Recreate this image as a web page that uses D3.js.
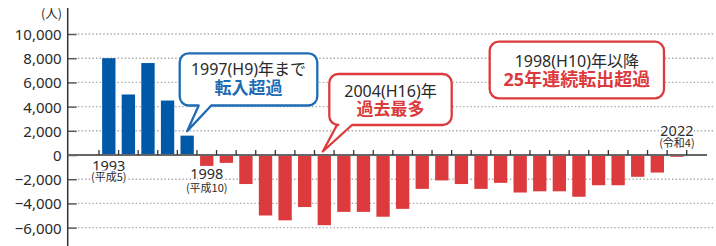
<!DOCTYPE html>
<html><head><meta charset="utf-8">
<script src="https://cdn.jsdelivr.net/npm/d3@7"></script>
<style>body{margin:0;background:#fff} svg{display:block}</style>
</head><body>
<svg id="c" width="716" height="246"></svg>
<script>
// ---- data ----
const years = [1993,1994,1995,1996,1997,1998,1999,2000,2001,2002,2003,2004,2005,2006,2007,2008,2009,2010,2011,2012,2013,2014,2015,2016,2017,2018,2019,2020,2021,2022];
const values = [8000,5000,7600,4500,1600,-900,-650,-2400,-5000,-5400,-4300,-5800,-4700,-4700,-5100,-4450,-2800,-2100,-2400,-2800,-2300,-3100,-3000,-3000,-3450,-2500,-2500,-1800,-1450,-150];
const yTicks = [-6000,-4000,-2000,0,2000,4000,6000,8000,10000];
const yUnit = "(人)";
const labelYears = [1993,1998,2022];
const labelMain = ["1993","1998","2022"];
const labelSub = ["(平成5)","(平成10)","(令和4)"];
const callout1 = ["1997(H9)年まで","転入超過"];
const callout2 = ["2004(H16)年","過去最多"];
const callout3 = ["1998(H10)年以降","25年連続転出超過"];

// ---- styles ----
const BLUE = "#0058a8", BLUE_LINE = "#1f6cb4", RED = "#dc3a3c", INK = "#2a2a2a";
const FONT = "'Noto Sans','Noto Sans CJK JP',sans-serif";
const CJK = "'Noto Sans CJK JP',sans-serif";

const svg = d3.select("#c");
const x = d3.scaleBand().domain(years).range([99, 686.7]).padding(0);
const y = d3.scaleLinear().domain([-6000, 10000]).range([227.6, 34]);
const axisX = 67.7;
const barW = x.bandwidth() * 0.68;

// grid lines
svg.append("g").selectAll("line").data(yTicks.filter(d => d !== 0)).join("line")
  .attr("x1", 78).attr("x2", 713)
  .attr("y1", d => y(d)).attr("y2", d => y(d))
  .attr("stroke", "#a8a8a8").attr("stroke-width", 1.4).attr("stroke-dasharray", "1.4 2.2");

// y axis
const ya = svg.append("g").attr("transform", `translate(${axisX},0)`)
  .call(d3.axisLeft(y).tickValues(yTicks).tickSize(-9).tickPadding(6).tickFormat(d3.format(",")));
ya.select(".domain").remove();
ya.selectAll(".tick line").attr("stroke", "#555").attr("stroke-width", 1.5);
ya.selectAll(".tick text").attr("font-family", FONT).attr("font-size", 15).attr("fill", INK).attr("dy", "0.36em");
svg.append("line").attr("x1", axisX).attr("x2", axisX).attr("y1", 8).attr("y2", 246)
  .attr("stroke", "#333").attr("stroke-width", 1.5);
svg.append("text").attr("x", 62).attr("y", 18).attr("text-anchor", "end")
  .attr("font-family", CJK).attr("font-size", 12.5).attr("fill", INK).text(yUnit);

// bars
svg.append("g").selectAll("rect").data(values).join("rect")
  .attr("x", (d, i) => x(years[i]) + (x.bandwidth() - barW) / 2)
  .attr("width", barW)
  .attr("y", d => Math.min(y(d), y(0)))
  .attr("height", d => Math.abs(y(d) - y(0)))
  .attr("fill", d => d >= 0 ? BLUE : RED);

// zero line + category ticks
svg.append("line").attr("x1", axisX).attr("x2", 707).attr("y1", y(0)).attr("y2", y(0))
  .attr("stroke", "#666").attr("stroke-width", 2);
const bounds = years.map(d => x(d)).concat([x(years[years.length - 1]) + x.bandwidth()]);
svg.append("g").selectAll("line").data(bounds).join("line")
  .attr("x1", d => d).attr("x2", d => d).attr("y1", y(0) - 5).attr("y2", y(0))
  .attr("stroke", "#333").attr("stroke-width", 1.3);

// x labels
const labOff = {1993: [170.5, 180.8], 1998: [179, 191.8], 2022: [135.8, 147.2]};
labelYears.forEach((yr, i) => {
  const cx = x(yr) + x.bandwidth() / 2;
  const g = svg.append("g").attr("fill", INK).attr("text-anchor", "middle")
    .attr("stroke", "#fff").attr("stroke-width", 3).attr("paint-order", "stroke");
  g.append("text").attr("x", cx).attr("y", labOff[yr][0]).attr("font-family", FONT).attr("font-size", 14.5).text(labelMain[i]);
  g.append("text").attr("x", cx).attr("y", labOff[yr][1]).attr("font-family", CJK).attr("font-size", 11).text(labelSub[i]);
});

// callouts
function boxPath(x0, y0, x1, y1, r, tail) {
  let p = `M${x0 + r},${y0} H${x1 - r} A${r},${r} 0 0 1 ${x1},${y0 + r} V${y1 - r} A${r},${r} 0 0 1 ${x1 - r},${y1}`;
  if (tail) p += ` H${tail[1]} L${tail[2]},${tail[3]} L${tail[0]},${y1}`;
  p += ` H${x0 + r} A${r},${r} 0 0 1 ${x0},${y1 - r} V${y0 + r} A${r},${r} 0 0 1 ${x0 + r},${y0} Z`;
  return p;
}
function callout(box, tail, color, lines, sizes, bases) {
  svg.append("path").attr("d", boxPath(box[0], box[1], box[2], box[3], 9, tail))
    .attr("fill", "#fff").attr("stroke", color).attr("stroke-width", 2.3).attr("stroke-linejoin", "round");
  const cx = (box[0] + box[2]) / 2;
  svg.append("text").attr("x", cx).attr("y", bases[0]).attr("text-anchor", "middle")
    .attr("font-family", FONT).attr("font-size", sizes[0]).attr("fill", INK).text(lines[0]);
  svg.append("text").attr("x", cx).attr("y", bases[1]).attr("text-anchor", "middle")
    .attr("font-family", FONT).attr("font-size", sizes[1]).attr("font-weight", 700).attr("fill", color).text(lines[1]);
}
const i97 = years.indexOf(1997);
const c97 = x(1997) + x.bandwidth() / 2, c04 = x(2004) + x.bandwidth() / 2;
callout([179.7, 53.3, 317.3, 105.5], [198.7, 211.3, c97, y(values[i97]) - 4.5], BLUE_LINE, callout1, [16, 17], [75, 94]);
callout([329.3, 74, 451.7, 125], [337, 352, c04 - 1.5, y(0) - 3.5], RED, callout2, [16, 17], [96.5, 115]);
callout([489.7, 41.7, 664, 98.3], null, RED, callout3, [16, 18], [66.5, 85.5]);
</script>
</body></html>
